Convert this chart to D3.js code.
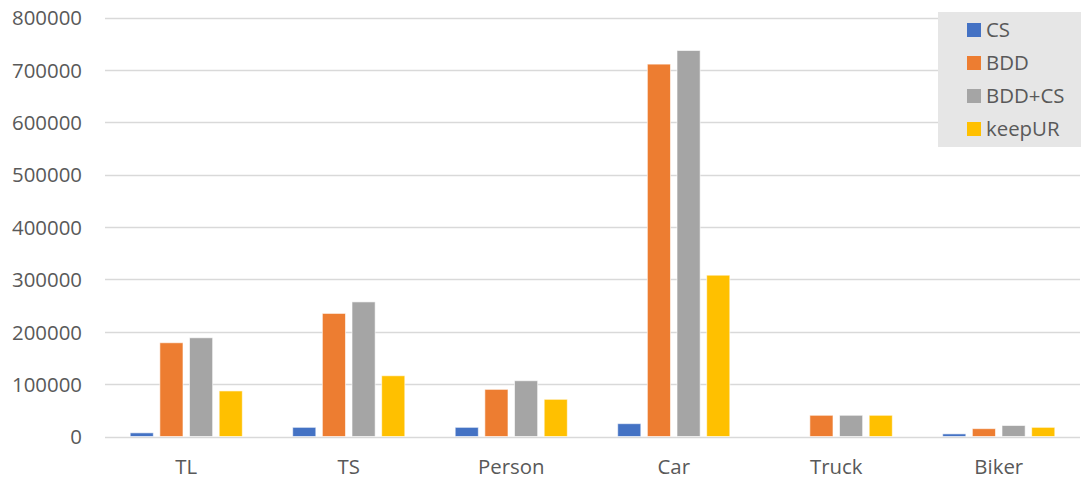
<!DOCTYPE html>
<html>
<head>
<meta charset="utf-8">
<script src="https://cdn.jsdelivr.net/npm/d3@7/dist/d3.min.js"></script>
<style>
  body { margin: 0; background: #fff; }
  svg text { font-family: "Open Sans", sans-serif; fill: #595959; }
</style>
</head>
<body>
<svg id="chart" width="1081" height="479"></svg>
<script>
// categories and series
var categories = ['TL', 'TS', 'Person', 'Car', 'Truck', 'Biker'];
var seriesNames = ['CS', 'BDD', 'BDD+CS', 'keepUR'];
var colors = ['#4472C4', '#ED7D31', '#A5A5A5', '#FFC000'];

var csValues = [7000, 17500, 17500, 24500, 0, 5000];
var bddValues = [179000, 235000, 90000, 711000, 40500, 15000];
var bddCsValues = [188500, 257000, 106500, 737000, 40500, 21000];
var keepUrValues = [87000, 116000, 71000, 308000, 40500, 17500];

var yTicks = [0, 100000, 200000, 300000, 400000, 500000, 600000, 700000, 800000];

var allSeries = [csValues, bddValues, bddCsValues, keepUrValues];

var svg = d3.select('#chart');

var plotLeft = 105, plotRight = 1080, plotTop = 17.5, plotBottom = 436.5;
var fontSize = 20.4;

var x = d3.scaleBand()
	.domain(categories)
	.range([plotLeft, plotRight])
	.paddingInner(0.31)
	.paddingOuter(0.155);

var xInner = d3.scaleBand()
	.domain(seriesNames)
	.range([0, x.bandwidth()])
	.paddingInner(0.22);

var y = d3.scaleLinear()
	.domain([0, 800000])
	.range([plotBottom, plotTop]);

// grid
var grid = svg.append('g');
grid.selectAll('line').data(yTicks)
	.enter()
		.append('line')
			.attr('x1', plotLeft)
			.attr('x2', plotRight)
			.attr('y1', function(d) { return Math.round(y(d)) + 0.5; })
			.attr('y2', function(d) { return Math.round(y(d)) + 0.5; })
			.attr('stroke', '#D9D9D9')
			.attr('stroke-width', 1.3);

// y labels
var yAxis = d3.axisLeft(y).tickValues(yTicks).tickSize(0).tickPadding(0).tickFormat(d3.format('d'));
var yG = svg.append('g')
	.attr('transform', 'translate(82,0)')
	.call(yAxis);
yG.select('.domain').remove();
yG.selectAll('text')
	.attr('font-size', fontSize)
	.attr('dy', '0.36em')
	.style('font-family', '"Open Sans", sans-serif')
	.style('fill', '#595959');

// bars
var groups = svg.append('g').selectAll('g').data(categories)
	.enter()
		.append('g')
			.attr('transform', function(d) { return 'translate(' + x(d) + ',0)'; });

groups.selectAll('rect')
	.data(function(d, i) {
		return allSeries.map(function(s, j) { return { name: seriesNames[j], value: s[i], color: colors[j] }; });
	})
	.enter()
		.append('rect')
			.attr('x', function(d) { return xInner(d.name); })
			.attr('width', xInner.bandwidth())
			.attr('y', function(d) { return y(d.value); })
			.attr('height', function(d) { return plotBottom - y(d.value); })
			.attr('fill', function(d) { return d.color; })
			.attr('stroke', '#fff')
			.attr('stroke-opacity', 0.6)
			.attr('stroke-width', 1);

// x labels
var xAxis = d3.axisBottom(x).tickSize(0).tickPadding(0);
var xG = svg.append('g')
	.attr('transform', 'translate(0,' + plotBottom + ')')
	.call(xAxis);
xG.select('.domain').remove();
xG.selectAll('text')
	.attr('y', 37)
	.attr('dy', 0)
	.attr('font-size', fontSize)
	.style('font-family', '"Open Sans", sans-serif')
	.style('fill', '#595959');

// legend
var legend = svg.append('g');
legend.append('rect')
	.attr('x', 938)
	.attr('y', 12)
	.attr('width', 143)
	.attr('height', 135)
	.attr('fill', '#E6E6E6');

var items = legend.selectAll('g.item').data(seriesNames)
	.enter()
		.append('g')
			.attr('class', 'item')
			.attr('transform', function(d, i) { return 'translate(967,' + (30 + i * 33) + ')'; });

items.append('rect')
	.attr('x', 0)
	.attr('y', -7)
	.attr('width', 14)
	.attr('height', 14)
	.attr('fill', function(d, i) { return colors[i]; });

items.append('text')
	.attr('x', 19)
	.attr('dy', '0.36em')
	.attr('font-size', fontSize)
	.text(function(d) { return d; });
</script>
</body>
</html>
